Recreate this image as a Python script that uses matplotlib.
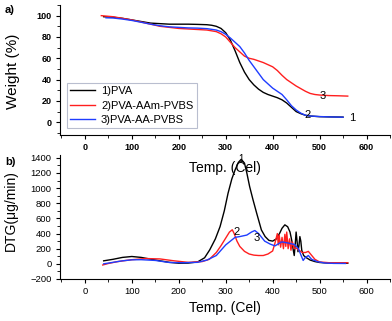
import numpy as np
import matplotlib
matplotlib.use("Agg")
import matplotlib.pyplot as plt
from matplotlib.ticker import MultipleLocator

plt.rcParams['font.family'] = ['Liberation Sans', 'DejaVu Sans']

# ---- TGA (weight %) ----
t_pva = [40, 60, 80, 100, 120, 140, 160, 180, 200, 220, 240, 260, 270, 280, 290, 300,
         310, 320, 330, 340, 350, 360, 370, 380, 390, 400, 410, 420, 430, 440, 450,
         460, 470, 480, 500, 520, 550]
w_pva = [99, 98.5, 97.5, 96, 94.5, 93, 92.5, 92, 92, 92, 91.8, 91.5, 91, 90, 88, 84,
         77, 67, 56, 47, 40, 35, 31, 28, 26, 24.5, 23, 21, 18, 14, 10,
         8, 6.5, 5.8, 5.2, 5, 4.8]

t_aam = [35, 60, 80, 100, 120, 140, 160, 180, 200, 220, 240, 260, 280, 290, 300, 310,
         320, 330, 340, 350, 360, 370, 380, 390, 400, 410, 420, 430, 440, 450, 460,
         470, 480, 490, 500, 520, 540, 560]
w_aam = [100, 99, 97.5, 96, 94, 92, 90, 89, 88, 87.5, 87, 86.5, 85, 83, 80, 75,
         70, 66, 62, 60, 59, 57.5, 56, 54, 52, 48.5, 44, 40, 37, 34, 31.5,
         29, 27, 26, 25.5, 25, 24.8, 24.5]

t_aa = [45, 60, 80, 100, 120, 140, 160, 180, 200, 220, 240, 260, 280, 290, 300, 310,
        320, 330, 340, 350, 360, 370, 380, 390, 400, 410, 420, 430, 440, 450, 460,
        470, 480, 500, 520, 550]
w_aa = [98, 97.8, 96.8, 95.5, 93.8, 92, 90.5, 89.5, 89, 88.5, 88.3, 87.8, 86.5, 85, 82.5, 79,
        75, 71, 65, 58, 52, 46, 40, 36, 32, 29, 26, 21, 15.5, 11.5, 8.5,
        6.5, 5.8, 5.3, 5, 4.7]

# ---- DTG (ug/min) ----
td_pva = [40, 60, 80, 100, 120, 140, 160, 180, 200, 220, 240, 255, 266, 278, 288, 297,
          305, 313, 320, 327, 333, 340, 345, 351, 358, 366, 376, 384, 392, 400, 408,
          415, 420, 426, 432, 437, 441, 444, 446, 448, 450, 452, 454, 456, 458, 460,
          462, 466, 472, 480, 490, 500, 520, 540, 560]
d_pva = [40, 60, 85, 97, 85, 62, 40, 20, 8, 10, 25, 80, 185, 330, 492, 700,
         932, 1120, 1240, 1340, 1380, 1330, 1200, 1020, 850, 668, 448, 360, 310, 300, 330,
         405, 470, 515, 490, 420, 300, 180, 110, 250, 420, 300, 160, 240, 360, 300,
         180, 110, 80, 50, 30, 18, 10, 8, 8]

td_aam = [38, 50, 70, 100, 130, 160, 190, 220, 250, 265, 280, 290, 300, 308, 314, 318,
          324, 330, 340, 350, 360, 370, 380, 390, 400, 405, 410, 412, 414, 417, 420,
          423, 426, 428, 430, 433, 436, 439, 442, 446, 450, 456, 463, 470, 476, 482,
          490, 500, 520, 540, 560]
d_aam = [-15, 5, 30, 55, 70, 65, 40, 20, 30, 60, 150, 240, 340, 420, 450, 400,
         300, 230, 165, 130, 115, 110, 110, 130, 170, 275, 400, 250, 380, 220, 350,
         200, 390, 230, 420, 200, 330, 180, 290, 200, 210, 180, 150, 150, 165, 120,
         60, 25, 15, 15, 15]

td_aa = [40, 60, 80, 100, 120, 150, 180, 210, 240, 260, 280, 300, 320, 330, 345, 355,
         362, 370, 383, 395, 405, 419, 433, 447, 455, 461, 465, 469, 476, 483, 495,
         510, 530, 555]
d_aa = [0, 20, 40, 53, 55, 45, 18, 15, 20, 50, 110, 250, 350, 360, 380, 420,
        440, 400, 300, 260, 237, 290, 275, 255, 200, 105, 45, 80, 110, 60, 30,
        12, 6, 5]

black, red, blue = '#000000', '#ff1f1f', '#1f3dff'
lw = 1.0

fig = plt.figure(figsize=(3.92, 3.21), dpi=100)
W, H = 392, 321
ax1 = fig.add_axes([60 / W, 1 - 135 / H, 330 / W, 130 / H])
ax2 = fig.add_axes([60 / W, 1 - 279 / H, 330 / W, 124 / H])
ax2.patch.set_visible(False)  # keep panel a's xlabel visible under panel b

for ax in (ax1, ax2):
    ax.spines['top'].set_visible(False)
    ax.spines['right'].set_visible(False)
    ax.spines['left'].set_linewidth(0.8)
    ax.spines['bottom'].set_linewidth(0.8)
    ax.set_xlim(-53, 650)
    ax.xaxis.set_major_locator(MultipleLocator(100))
    ax.xaxis.set_minor_locator(MultipleLocator(50))
    ax.tick_params(which='major', direction='out', length=3, width=0.8, pad=3)
    ax.tick_params(which='minor', direction='out', length=2, width=0.6)

# panel a
ax1.plot(t_pva, w_pva, color=black, lw=lw, label='1)PVA')
ax1.plot(t_aam, w_aam, color=red, lw=lw, label='2)PVA-AAm-PVBS')
ax1.plot(t_aa, w_aa, color=blue, lw=lw, label='3)PVA-AA-PVBS')
ax1.set_ylim(-12, 110)
ax1.yaxis.set_major_locator(MultipleLocator(20))
ax1.yaxis.set_minor_locator(MultipleLocator(10))
for lab in ax1.get_xticklabels() + ax1.get_yticklabels():
    lab.set_fontsize(6.5)
    lab.set_fontweight('bold')
ax1.set_ylabel('Weight (%)', fontsize=11)
ax1.yaxis.set_label_coords(-0.12, 0.49)
ax1.set_xlabel('Temp. (Cel)', fontsize=10)
ax1.xaxis.set_label_coords(0.5, -0.2)
ax1.text(507, 24.5, '3', fontsize=8, ha='center', va='center')
ax1.text(475, 7, '2', fontsize=8, ha='center', va='center')
ax1.text(569, 3.5, '1', fontsize=8, ha='center', va='center')
leg = ax1.legend(loc='lower left', bbox_to_anchor=(0.02, 0.05), fontsize=8,
                 frameon=True, fancybox=False, handlelength=2.3, handletextpad=0.5,
                 labelspacing=0.4, borderpad=0.3, borderaxespad=0)
leg.get_frame().set_edgecolor('#a8aec4')
leg.get_frame().set_linewidth(0.8)

# panel b
ax2.plot(td_pva, d_pva, color=black, lw=lw)
ax2.plot(td_aam, d_aam, color=red, lw=lw)
ax2.plot(td_aa, d_aa, color=blue, lw=lw)
ax2.set_ylim(-200, 1437)
ax2.yaxis.set_major_locator(MultipleLocator(200))
ax2.yaxis.set_minor_locator(MultipleLocator(100))
for lab in ax2.get_xticklabels() + ax2.get_yticklabels():
    lab.set_fontsize(6.8)
ax2.set_ylabel('DTG(\u03bcg/min)', fontsize=10)
ax2.yaxis.set_label_coords(-0.127, 0.55)
ax2.set_xlabel('Temp. (Cel)', fontsize=10)
ax2.xaxis.set_label_coords(0.5, -0.18)
ax2.text(323, 426, '2', fontsize=8, ha='center', va='center')
ax2.text(367, 339, '3', fontsize=8, ha='center', va='center')
ax2.text(333, 1390, '1', fontsize=7, ha='center', va='center')

fig.text(5 / W, 1 - 10 / H, 'a)', fontsize=8, fontweight='bold', va='center')
fig.text(5 / W, 1 - 162 / H, 'b)', fontsize=8, fontweight='bold', va='center')

fig.savefig('out.png', dpi=100)
